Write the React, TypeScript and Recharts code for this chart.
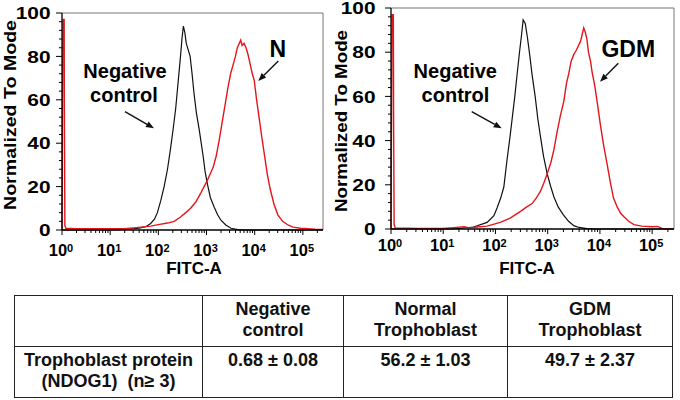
import React from 'react';
import { LineChart, Line, XAxis, YAxis, ReferenceLine } from 'recharts';

const FONT = '"Liberation Sans", Arial, Helvetica, sans-serif';
const X_MAX = 5.418; // log10(262144), FITC-A channel range

// x tick labels: 10^n
const xDecades = [0, 1, 2, 3, 4, 5];
const yMajorTicks = [0, 20, 40, 60, 80, 100];
const yMinorStep = 4;

// ---- Left panel (N) : x = log10(FITC-A), y = % of mode
const leftNegLog = [0, 1.0, 1.3, 1.6, 1.75, 1.84, 1.92, 1.98, 2.05, 2.12, 2.19, 2.25, 2.31, 2.36, 2.41, 2.46, 2.49, 2.52, 2.55, 2.58, 2.62, 2.66, 2.70, 2.74, 2.79, 2.85, 2.89, 2.93, 2.97, 3.02, 3.08, 3.16, 3.23, 3.30, 3.40, 3.51, 3.65, 3.8, 5.418];
const leftNegVal = [0, 0, 0.3, 0.8, 1.6, 3, 5, 8, 13.5, 20, 28, 37, 47, 56, 68, 80, 88, 94, 91, 86, 83, 80, 72, 63, 54, 46, 40, 34, 27, 21, 15, 10.5, 7, 4.5, 2.3, 0.8, 0.2, 0, 0];
const leftPosLog = [0, 0.02, 0.045, 0.05, 0.06, 0.08, 0.3, 0.8, 1.28, 1.49, 1.84, 2.0, 2.19, 2.33, 2.46, 2.57, 2.67, 2.78, 2.88, 2.95, 3.02, 3.08, 3.14, 3.2, 3.26, 3.32, 3.38, 3.44, 3.5, 3.55, 3.6, 3.64, 3.68, 3.71, 3.74, 3.78, 3.82, 3.86, 3.9, 3.95, 3.99, 4.04, 4.09, 4.14, 4.2, 4.26, 4.32, 4.4, 4.48, 4.58, 4.7, 4.8, 4.95, 5.1, 5.25, 5.418];
const leftPosVal = [0, 97, 97, 51, 2, 0.8, 0.6, 0.6, 0.6, 1.0, 1.8, 2.5, 3.2, 4, 6, 8, 10, 13, 17, 20, 23, 26, 29, 34, 41, 49, 57, 65, 72, 76, 80, 84, 86, 87.5, 85, 86, 84, 81, 77, 72, 69, 60, 52, 44, 35, 26, 19, 12, 7, 4, 2.2, 1.3, 0.8, 0.6, 0.4, 0.3];

// ---- Right panel (GDM)
const rightNegLog = [0, 1.2, 1.58, 1.84, 1.97, 2.03, 2.1, 2.16, 2.22, 2.28, 2.33, 2.37, 2.41, 2.46, 2.5, 2.53, 2.57, 2.61, 2.66, 2.70, 2.76, 2.81, 2.86, 2.92, 2.99, 3.06, 3.12, 3.2, 3.3, 3.4, 3.5, 3.6, 3.75, 3.9, 5.418];
const rightNegVal = [0, 0, 0.9, 3, 6, 9.5, 14, 19, 31, 42, 52, 60, 69, 80, 88, 94.6, 93, 87, 78, 70, 60, 50, 42, 33, 25, 19, 14.5, 10, 6.4, 3.5, 1.5, 0.7, 0.2, 0, 0];
const rightPosLog = [0, 0.02, 0.045, 0.05, 0.06, 0.08, 0.5, 1.0, 1.2, 1.4, 1.5, 1.6, 1.84, 2.09, 2.29, 2.48, 2.6, 2.7, 2.78, 2.86, 2.93, 2.99, 3.06, 3.12, 3.18, 3.24, 3.31, 3.36, 3.4, 3.45, 3.5, 3.55, 3.59, 3.63, 3.66, 3.69, 3.72, 3.75, 3.78, 3.82, 3.85, 3.9, 3.95, 4.01, 4.07, 4.14, 4.2, 4.26, 4.33, 4.4, 4.46, 4.55, 4.65, 4.8, 5.0, 5.1, 5.19, 5.3, 5.418];
const rightPosVal = [0, 97, 97, 50, 2, 0.5, 0.3, 0.3, 0.6, 1, 0.5, 0.8, 1.3, 3, 5, 8, 10, 11.5, 14, 17, 21, 25, 30, 36, 44, 51, 58, 66, 70, 76, 79, 81, 83, 85, 88, 91, 89, 86, 80, 76, 71, 65, 57, 47, 38, 29, 21, 14, 10, 7, 5.5, 3.5, 2, 1.3, 1, 1.2, 0.3, 0, 0];

// ---- Table
const tableHeaders = [[''], ['Negative', 'control'], ['Normal', 'Trophoblast'], ['GDM', 'Trophoblast']];
const rowLabel = ['Trophoblast protein', '(NDOG1)  (n\u2265 3)'];
const rowValues = ['0.68 \u00B1 0.08', '56.2 \u00B1 1.03', '49.7 \u00B1 2.37'];

const zip = (xs: number[], ys: number[]) => xs.map((x, i) => ({ x, y: ys[i] }));

const xTicks: number[] = [];
xDecades.forEach((d) => {
  for (let k = 1; k <= 9; k++) {
    const v = d + Math.log10(k);
    if (v <= X_MAX + 1e-9) xTicks.push(v);
  }
});
const yTicks: number[] = [];
for (let v = 0; v <= 100; v += yMinorStep) yTicks.push(v);

const RED = '#e2161c';
const BLACK = '#111';

function makeXTick(labelDy: number) {
  return (props: any) => {
    const { x, y, payload } = props;
    const v = payload.value as number;
    const major = Math.abs(v - Math.round(v)) < 1e-6;
    return (
      <g>
        <line x1={x} x2={x} y1={y} y2={y + (major ? 5 : 3)} stroke="#000" strokeWidth={1} />
        {major && (
          <text x={x - 1} y={y + labelDy} textAnchor="middle" fontFamily={FONT} fontSize={16.5} fontWeight="bold" fill="#000">
            <tspan>10</tspan>
            <tspan dy={-4} fontSize={11}>{Math.round(v)}</tspan>
          </text>
        )}
      </g>
    );
  };
}

function makeYTick(gap: number) {
  return (props: any) => {
    const { x, y, payload } = props;
    const v = payload.value as number;
    const major = yMajorTicks.includes(v);
    const s = String(v);
    return (
      <g>
        <line x1={x - (major ? 6 : 3)} x2={x} y1={y} y2={y} stroke="#000" strokeWidth={1} />
        {major && (
          <text x={x - gap} y={y} dy="0.36em" textAnchor="end" fontFamily={FONT} fontSize={17} fontWeight="bold" fill="#000"
            textLength={s.length * 11.6} lengthAdjust="spacingAndGlyphs">{s}</text>
        )}
      </g>
    );
  };
}

function Histogram({ neg, pos, width, height, margin, yAxisWidth, xAxisHeight, xLabelDy, yGap }: any) {
  return (
    <LineChart width={width} height={height} margin={margin}>
      <XAxis type="number" dataKey="x" domain={[0, X_MAX]} ticks={xTicks} interval={0}
        tick={makeXTick(xLabelDy)} tickLine={false} tickSize={0} tickMargin={0} height={xAxisHeight}
        axisLine={{ stroke: '#000', strokeWidth: 1.3 }} />
      <YAxis type="number" domain={[0, 100]} ticks={yTicks} interval={0} width={yAxisWidth}
        tick={makeYTick(yGap)} tickLine={false} tickSize={0} tickMargin={0}
        axisLine={{ stroke: '#000', strokeWidth: 1.3 }} />
      <ReferenceLine y={100} stroke="#777" strokeWidth={1} ifOverflow="visible" />
      <ReferenceLine x={X_MAX} stroke="#777" strokeWidth={1} ifOverflow="visible" />
      <Line data={neg} dataKey="y" type="linear" stroke={BLACK} strokeWidth={1.2} dot={false} isAnimationActive={false} />
      <Line data={pos} dataKey="y" type="linear" stroke={RED} strokeWidth={1.4} dot={false} isAnimationActive={false} />
    </LineChart>
  );
}

function Arrow({ x1, y1, x2, y2 }: { x1: number; y1: number; x2: number; y2: number }) {
  const a = Math.atan2(y2 - y1, x2 - x1);
  const L = 8, W = 3.2;
  const bx = x2 - L * Math.cos(a), by = y2 - L * Math.sin(a);
  const px = -Math.sin(a) * W, py = Math.cos(a) * W;
  return (
    <g>
      <line x1={x1} y1={y1} x2={bx} y2={by} stroke="#111" strokeWidth={1.4} />
      <polygon points={`${x2},${y2} ${bx + px},${by + py} ${bx - px},${by - py}`} fill="#111" />
    </g>
  );
}

const cell: React.CSSProperties = {
  border: '1px solid #222',
  padding: '3px 0 0 0',
  verticalAlign: 'top',
  textAlign: 'center',
  lineHeight: '21px',
  whiteSpace: 'pre',
};

export default function App() {
  const annot = { fontFamily: FONT, fontWeight: 'bold' as const, fill: '#000' };
  return (
    <div style={{ position: 'absolute', left: 0, top: 0, width: 680, height: 400, background: '#fff', overflow: 'hidden' }}>
      <div style={{ position: 'absolute', left: 0, top: 0 }}>
        <Histogram neg={zip(leftNegLog, leftNegVal)} pos={zip(leftPosLog, leftPosVal)}
          width={330} height={290} margin={{ top: 13, right: 7, bottom: 0, left: 0 }}
          yAxisWidth={62} xAxisHeight={60} xLabelDy={26} yGap={11.5} />
      </div>
      <div style={{ position: 'absolute', left: 330, top: 0 }}>
        <Histogram neg={zip(rightNegLog, rightNegVal)} pos={zip(rightPosLog, rightPosVal)}
          width={350} height={290} margin={{ top: 8, right: 6, bottom: 0, left: 0 }}
          yAxisWidth={61} xAxisHeight={61} xLabelDy={21.5} yGap={15.5} />
      </div>
      <svg width={680} height={290} style={{ position: 'absolute', left: 0, top: 0, pointerEvents: 'none' }}>
        <text transform="translate(15.5,115) rotate(-90)" textAnchor="middle" fontSize={16} textLength={190} lengthAdjust="spacingAndGlyphs" {...annot}>Normalized To Mode</text>
        <text transform="translate(346.5,121) rotate(-90)" textAnchor="middle" fontSize={16} textLength={182} lengthAdjust="spacingAndGlyphs" {...annot}>Normalized To Mode</text>
        <text x={194} y={274} textAnchor="middle" fontSize={17} {...annot}>FITC-A</text>
        <text x={527} y={274} textAnchor="middle" fontSize={17} {...annot}>FITC-A</text>

        <text x={125} y={78} textAnchor="middle" fontSize={20} {...annot}>Negative</text>
        <text x={124} y={101.5} textAnchor="middle" fontSize={20} {...annot}>control</text>
        <Arrow x1={125} y1={111.7} x2={154} y2={128.3} />
        <text x={277.7} y={56.7} textAnchor="middle" fontSize={23} {...annot}>N</text>
        <Arrow x1={278.3} y1={61} x2={258.3} y2={81} />

        <text x={455.3} y={78} textAnchor="middle" fontSize={20} {...annot}>Negative</text>
        <text x={455.5} y={101.5} textAnchor="middle" fontSize={20} {...annot}>control</text>
        <Arrow x1={471.7} y1={111.7} x2={501.7} y2={128.3} />
        <text x={628.3} y={56.7} textAnchor="middle" fontSize={23} {...annot}>GDM</text>
        <Arrow x1={618.3} y1={63.3} x2={600} y2={81.7} />
      </svg>
      <table style={{ position: 'absolute', left: 14, top: 295, width: 658, borderCollapse: 'collapse', tableLayout: 'fixed', fontFamily: FONT, fontSize: 18, fontWeight: 'bold', color: '#111' }}>
        <colgroup>
          <col style={{ width: 188 }} />
          <col style={{ width: 141 }} />
          <col style={{ width: 164 }} />
          <col style={{ width: 165 }} />
        </colgroup>
        <tbody>
          <tr style={{ height: 51 }}>
            {tableHeaders.map((h, i) => (
              <td key={i} style={cell}>{h.map((t, j) => (<React.Fragment key={j}>{j > 0 && <br />}{t}</React.Fragment>))}</td>
            ))}
          </tr>
          <tr style={{ height: 51 }}>
            <td style={cell}>{rowLabel[0]}<br />{rowLabel[1]}</td>
            {rowValues.map((v, i) => (<td key={i} style={cell}>{v}</td>))}
          </tr>
        </tbody>
      </table>
    </div>
  );
}
